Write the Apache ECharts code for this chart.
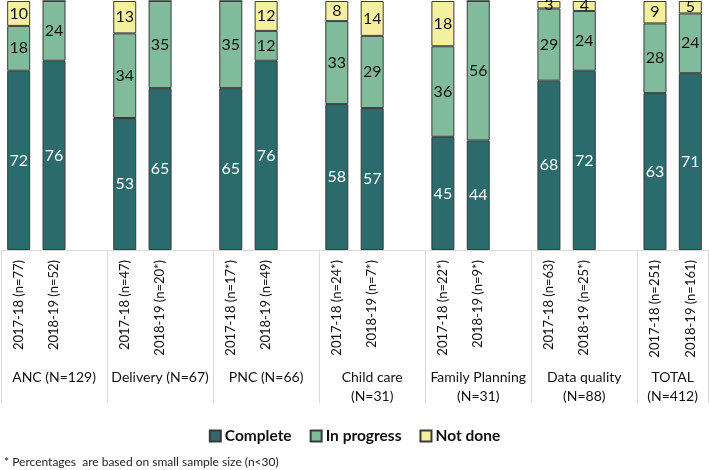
<!DOCTYPE html>
<html>
<head>
<meta charset="utf-8">
<script src="https://cdn.jsdelivr.net/npm/echarts@6/dist/echarts.min.js"></script>
<style>
  html, body { margin: 0; padding: 0; background: #fff; }
  #chart { width: 709px; height: 470px; }
</style>
</head>
<body>
<div id="chart"></div>
<script>
// one slot per bar, '' = empty gap slot between groups
const yearLabels = [
  '2017-18 (n=77)', '2018-19 (n=52)', '',
  '2017-18 (n=47)', '2018-19 (n=20*)', '',
  '2017-18 (n=17*)', '2018-19 (n=49)', '',
  '2017-18 (n=24*)', '2018-19 (n=7*)', '',
  '2017-18 (n=22*)', '2018-19 (n=9*)', '',
  '2017-18 (n=63)', '2018-19 (n=25*)', '',
  '2017-18 (n=251)', '2018-19 (n=161)'
]
const complete   = [72, 76, null, 53, 65, null, 65, 76, null, 58, 57, null, 45, 44, null, 68, 72, null, 63, 71]
const inProgress = [18, 24, null, 34, 35, null, 35, 12, null, 33, 29, null, 36, 56, null, 29, 24, null, 28, 24]
const notDone    = [10, 0, null, 13, 0, null, 0, 12, null, 8, 14, null, 18, 0, null, 3, 4, null, 9, 5]

const groupLabels = ['ANC (N=129)', 'Delivery (N=67)', 'PNC (N=66)', 'Child care\n(N=31)',
  'Family Planning\n(N=31)', 'Data quality\n(N=88)', 'TOTAL\n(N=412)']
const groupSlots = [3, 3, 3, 3, 3, 3, 2]

const seriesNames = ['Complete', 'In progress', 'Not done']
const colors = ['#2b6b6d', '#80bc9c', '#f4f0a0']

// half-slot points for group labels and divider ticks
const halfPoints = []
const labelIdx = []
const tickIdx = [0]
let pos = 0
groupSlots.forEach((s) => {
  labelIdx.push(pos + s)
  pos += s * 2
  tickIdx.push(pos)
})
for (let i = 0; i <= pos; i++) {
  const g = labelIdx.indexOf(i)
  halfPoints.push(g >= 0 ? groupLabels[g] : '')
}

// Excel 100% stacked: scale each bar to its own total
const toShare = (arr) => arr.map((v, i) => {
  if (v === null) return null
  const sum = complete[i] + inProgress[i] + notDone[i]
  return { value: v * 100 / sum, raw: v }
})

const formatSeries = (values, idx) => ({
  name: seriesNames[idx],
  type: 'bar',
  stack: 'total',
  barWidth: 23,
  xAxisIndex: 0,
  itemStyle: { color: colors[idx], borderColor: '#3a3a3a', borderWidth: 1 },
  label: {
    show: true,
    position: 'inside',
    fontFamily: 'Lato',
    fontSize: 16,
    color: idx === 0 ? '#fff' : '#111',
    formatter: (p) => (p.data && p.data.raw ? p.data.raw : '')
  },
  data: toShare(values)
})

const myChart = echarts.init(document.getElementById('chart'))
myChart.setOption({
  animation: false,
  textStyle: { fontFamily: 'Lato' },
  title: {
    text: '* Percentages  are based on small sample size (n<30)',
    left: 4,
    top: 456,
    padding: 0,
    textStyle: { fontSize: 12, fontWeight: 'normal', color: '#222', fontFamily: 'Lato' }
  },
  legend: {
    data: seriesNames,
    left: 'center',
    top: 428,
    padding: 0,
    itemWidth: 11,
    itemHeight: 11,
    itemGap: 18,
    icon: 'rect',
    textStyle: { fontSize: 15.5, fontWeight: 'bold', color: '#111', fontFamily: 'Lato', padding: [0, 0, 0, -1] }
  },
  grid: { left: 1, right: 1, top: 1, bottom: 220, containLabel: false },
  xAxis: [
    {
      type: 'category',
      data: yearLabels,
      axisLine: { lineStyle: { color: '#d9d9d9' } },
      axisTick: { show: false },
      axisLabel: { interval: 0, rotate: 90, margin: 10, fontSize: 13, color: '#111' }
    },
    {
      type: 'category',
      boundaryGap: false,
      data: halfPoints,
      position: 'bottom',
      axisLine: { show: false },
      axisTick: {
        show: true,
        length: 153,
        interval: (i) => tickIdx.includes(i),
        lineStyle: { color: '#d9d9d9' }
      },
      axisLabel: {
        interval: (i) => labelIdx.includes(i),
        margin: 118,
        fontSize: 14,
        lineHeight: 19,
        color: '#111',
        align: 'center'
      }
    }
  ],
  yAxis: [{ type: 'value', min: 0, max: 100, show: false, splitLine: { show: false } }],
  series: [
    formatSeries(complete, 0),
    formatSeries(inProgress, 1),
    formatSeries(notDone, 2)
  ]
})
</script>
</body>
</html>
